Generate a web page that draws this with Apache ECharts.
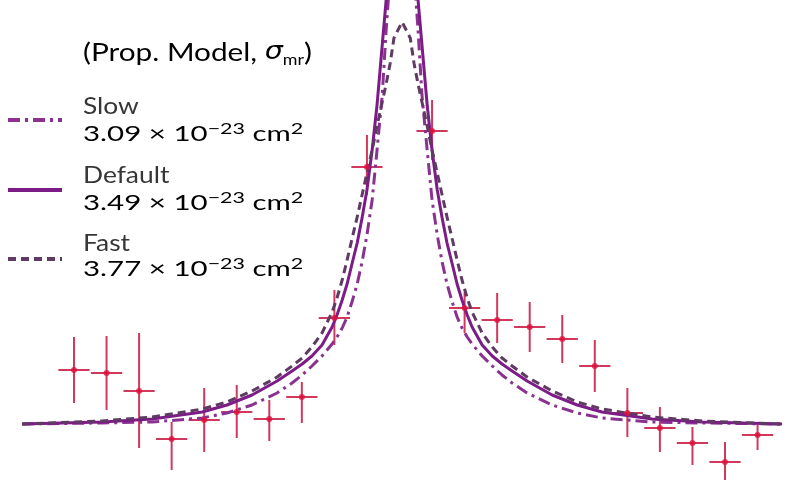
<!DOCTYPE html>
<html>
<head>
<meta charset="utf-8">
<script src="https://cdn.jsdelivr.net/npm/echarts@6/dist/echarts.min.js"></script>
<style>
html,body{margin:0;padding:0;background:#fff;}
#chart{width:800px;height:480px;}
</style>
</head>
<body>
<div id="chart"></div>
<script>
// ---- Measured data (bin index, counts in arbitrary units) ----
const binX   = [0, 1, 2, 3, 4, 5, 6, 7, 8, 9, 11, 12, 13, 14, 15, 16, 17, 18, 19, 20, 21];
const binY   = [27.5, 26.75, 22.25, 10.25, 15, 17, 15.25, 20.75, 40.5, 78.25, 87.25, 43, 40, 38.25, 35.25, 28.5, 16.75, 13, 9.25, 4.5, 11.25];
const binLo  = [19.25, 17.5, 8, 2.5, 7, 10.5, 9.75, 14.25, 33.75, 71.25, 80, 36.75, 34.25, 32, 29.25, 22, 10.75, 7, 3.75, -0.5, 7.5];
const binHi  = [35.75, 36, 36.75, 14.5, 23, 23.75, 20, 24.5, 47.5, 86.25, 95, 47, 46.75, 44.5, 41.25, 35, 23, 18.25, 13.25, 9.5, 13.75];

// ---- Model curves ----
const curveX = [-1.59, 0.86, 2.40, 3.94, 4.70, 5.47, 6.24, 6.70, 7.01, 7.31, 7.62, 7.93, 8.08, 8.24, 8.39, 8.54, 8.70, 8.85, 9.00, 9.16, 9.31, 9.47, 9.59, 9.71, 9.83,
                10.08,
                10.33, 10.45, 10.57, 10.69, 10.85, 11.00, 11.16, 11.31, 11.46, 11.62, 11.77, 11.92, 12.08, 12.23, 12.54, 12.85, 13.15, 13.46, 13.92, 14.69, 15.46, 16.22, 17.76, 19.30, 21.75];
const fastY = [14, 14.75, 15.75, 17.75, 19.5, 22.25, 25.75, 28.5, 30.5, 33.25, 36.75, 42, 45.5, 50, 55, 60.25, 65.75, 71.25, 76.75, 82.5, 88.5, 94.5, 99, 104, 110.5,
               114.5,
               110.5, 104, 99, 94.5, 88.5, 82.5, 76.75, 71.25, 65.75, 60.25, 55, 50, 45.5, 42, 36.75, 33.25, 30.5, 28.5, 25.75, 22.25, 19.5, 17.75, 15.75, 14.75, 14];
const defaultY = [14, 14.5, 15.25, 17, 18.75, 21.25, 24.75, 27.25, 29, 31, 33.75, 38.25, 41.25, 45, 49, 54, 59.25, 65.5, 72.5, 82.5, 93.75, 108.75, 120, 127, 135,
                  147.5,
                  135, 127, 120, 108.75, 93.75, 82.5, 72.5, 65.5, 59.25, 54, 49, 45, 41.25, 38.25, 33.75, 31, 29, 27.25, 24.75, 21.25, 18.75, 17, 15.25, 14.5, 14];
const slowY = [14, 14.25, 14.5, 15.5, 16.75, 18.75, 21.75, 24.25, 26.25, 28.5, 31, 34, 35.75, 38, 40.75, 44.5, 49, 54.5, 61.25, 70, 82.5, 96.25, 112.5, 126.25, 140,
               157.5,
               140, 126.25, 112.5, 96.25, 82.5, 70, 61.25, 54.5, 49, 44.5, 40.75, 38, 35.75, 34, 31, 28.5, 26.25, 24.25, 21.75, 18.75, 16.75, 15.5, 14.5, 14.25, 14];

// ---- Text ----
const titleParts = ['(Prop. Model, ', 'σ', 'mr', ')'];
const legendNames = ['Slow', 'Default', 'Fast'];
const legendValues = ['3.09', '3.49', '3.77'];

const COL_PT = '#c8163f';
const COL_SLOW = '#8a3290';
const COL_DEF = '#7c1c86';
const COL_FAST = '#5f3a63';
const TXT = '#363636';
const FONT = 'Lato, "Noto Sans", sans-serif';

const pair = (xs, ys) => xs.map((x, i) => [x, ys[i]]);
const errData = binX.map((x, i) => [x, binY[i], binLo[i], binHi[i]]);

const chart = echarts.init(document.getElementById('chart'), null, {renderer: 'canvas'});

const rich = {
  t: {fontSize: 25, lineHeight: 30, fontFamily: FONT, color: TXT},
  a: {fontSize: 22, lineHeight: 26, fontFamily: FONT, color: TXT},
  sup: {fontSize: 16, lineHeight: 13, fontFamily: FONT, color: TXT, verticalAlign: 'top'},
  s: {fontSize: 24, lineHeight: 30, fontFamily: '"DejaVu Sans", sans-serif', fontStyle: 'italic', color: TXT},
  sub: {fontSize: 15, lineHeight: 14, fontFamily: FONT, color: TXT, verticalAlign: 'bottom'}
};

function valueText(v) {
  return '{a|' + v + ' × 10}{sup|−23}{a| cm}{sup|2}';
}

const lineYs = [120, 190, 259];
const labelYs = [106, 175, 243];
const valYs = [134, 203, 269];
const dashes = [[12, 5, 3, 5], null, [8, 5]];
const cols = [COL_SLOW, COL_DEF, COL_FAST];

const graphics = [];
graphics.push({
  type: 'text', x: 83, y: 53, z: 100, scaleX: 1.19,
  style: {
    text: '{t|' + titleParts[0] + '}{s|' + titleParts[1] + '}{sub|' + titleParts[2] + '}{t|' + titleParts[3] + '}',
    rich: rich, verticalAlign: 'middle'
  }
});
for (let k = 0; k < 3; k++) {
  graphics.push({
    type: 'line', z: 100,
    shape: {x1: 8, y1: lineYs[k], x2: 62, y2: lineYs[k]},
    style: {stroke: cols[k], lineWidth: 4, lineDash: dashes[k] || null}
  });
  graphics.push({
    type: 'text', x: 83, y: labelYs[k], z: 100, scaleX: 1.1,
    style: {text: legendNames[k], font: '24px ' + FONT, fill: TXT, verticalAlign: 'middle'}
  });
  graphics.push({
    type: 'text', x: 83, y: valYs[k], z: 100, scaleX: 1.34,
    style: {text: valueText(legendValues[k]), rich: rich, verticalAlign: 'middle'}
  });
}

const option = {
  animation: false,
  backgroundColor: '#fff',
  grid: {left: 0, right: 0, top: 0, bottom: 0},
  xAxis: {type: 'value', min: -2.273, max: 22.304, show: false},
  yAxis: {type: 'value', min: 0, max: 120, show: false},
  graphic: graphics,
  series: [
    {
      type: 'custom', z: 2,
      data: errData,
      renderItem: function (params, api) {
        const x = api.value(0), y = api.value(1), lo = api.value(2), hi = api.value(3);
        const l = api.coord([x - 0.48, y]);
        const r = api.coord([x + 0.48, y]);
        const t = api.coord([x, hi]);
        const b = api.coord([x, lo]);
        const st = {stroke: COL_PT, lineWidth: 2, opacity: 0.85};
        return {
          type: 'group',
          children: [
            {type: 'line', shape: {x1: l[0], y1: l[1], x2: r[0], y2: r[1]}, style: st},
            {type: 'line', shape: {x1: t[0], y1: t[1], x2: b[0], y2: b[1]}, style: st}
          ]
        };
      }
    },
    {
      type: 'line', z: 3, data: pair(curveX, slowY), showSymbol: false, smooth: false,
      lineStyle: {color: COL_SLOW, width: 3, type: [12, 5, 3, 5], join: 'round'}
    },
    {
      type: 'line', z: 3, data: pair(curveX, defaultY), showSymbol: false, smooth: false,
      lineStyle: {color: COL_DEF, width: 3, join: 'round'}
    },
    {
      type: 'line', z: 3, data: pair(curveX, fastY), showSymbol: false, smooth: false,
      lineStyle: {color: COL_FAST, width: 3, type: [8, 5], join: 'round'}
    },
    {
      type: 'scatter', z: 4, data: pair(binX, binY), symbolSize: 6,
      itemStyle: {color: '#e0103c'}
    }
  ]
};
chart.setOption(option);
</script>
</body>
</html>
